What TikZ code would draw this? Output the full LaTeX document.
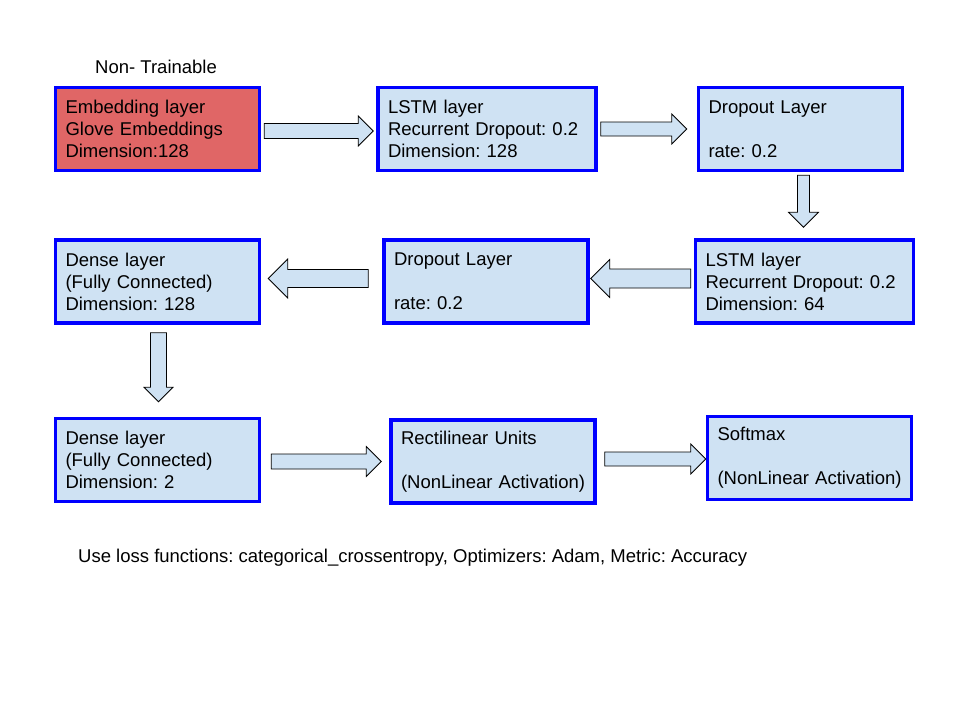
\documentclass[tikz,border=0pt]{standalone}
\usepackage{fontspec}
\setmainfont{Liberation Sans}
\usepackage{xcolor}
\usetikzlibrary{positioning, calc}

\definecolor{layerfill}{HTML}{CFE2F3}
\definecolor{embedfill}{HTML}{E06666}
\definecolor{layerblue}{HTML}{0000FF}

% block arrow between two points, horizontal or vertical
\newcommand{\harrow}[4]{%
  \draw[blockarrow] let \p1=(#1), \p2=(#2), \n1={(\x2>\x1)*2-1} in
    (\x1,\y1-#3) -- ({\x2-\n1*#4},\y1-#3) -- ({\x2-\n1*#4},\y1-#4) -- (\x2,\y1)
    -- ({\x2-\n1*#4},\y1+#4) -- ({\x2-\n1*#4},\y1+#3) -- (\x1,\y1+#3) -- cycle;}
\newcommand{\varrow}[4]{%
  \draw[blockarrow] let \p1=(#1), \p2=(#2), \n1={(\y2>\y1)*2-1} in
    (\x1-#3,\y1) -- (\x1-#3,{\y2-\n1*#4}) -- (\x1-#4,{\y2-\n1*#4}) -- (\x1,\y2)
    -- (\x1+#4,{\y2-\n1*#4}) -- (\x1+#3,{\y2-\n1*#4}) -- (\x1+#3,\y1) -- cycle;}

\begin{document}
\frenchspacing
\hyphenpenalty=10000
\begin{tikzpicture}[
  x=1pt, y=1pt,
  font=\fontsize{18.5}{22}\selectfont,
  layer/.style={draw=layerblue, line width=3.5pt, fill=layerfill, rectangle,
    text width=#1, align=left, inner xsep=10pt, minimum height=83pt},
  layer/.default=184pt,
  blockarrow/.style={draw=black, line width=0.8pt, fill=layerfill, line join=miter},
  caption/.style={anchor=base west, inner sep=0pt}
]
\useasboundingbox (0,0) rectangle (960,-720);

% First row
\node[layer, fill=embedfill] (embed) at (157.5,-129) {Embedding layer\\Glove Embeddings\\Dimension:128};
\node[layer=198pt, right=115pt of embed] (lstmA) {LSTM layer\\Recurrent Dropout: 0.2\\Dimension: 128};
\node[layer, right=99pt of lstmA] (dropA) {Dropout Layer\\[22pt]rate: 0.2};

% Second row (runs right to left)
\node[layer, below=66pt of embed] (denseA) {Dense layer\\(Fully Connected)\\Dimension: 128};
\node[layer, right=121pt of denseA] (dropB) {Dropout Layer\\[22pt]rate: 0.2};
\node[layer=198pt, right=104pt of dropB] (lstmB) {LSTM layer\\Recurrent Dropout: 0.2\\Dimension: 64};

% Third row
\node[layer, below=92pt of denseA] (denseB) {Dense layer\\(Fully Connected)\\Dimension: 2};
\node[layer, right=128pt of denseB, yshift=-1.5pt] (relu) {Rectilinear Units\\[22pt]\mbox{(NonLinear Activation)}};
\node[layer, right=109pt of relu, yshift=3.5pt] (softmax) {Softmax\\[22pt]\mbox{(NonLinear Activation)}};

% Captions
\node[caption] (frozen) at (95,-73) {Non- Trainable};
\node[caption] (compile) at (78,-562) {Use loss functions: categorical\_crossentropy, Optimizers: Adam, Metric: Accuracy};

% Flow arrows
\harrow{$(embed.east)+(3,-2)$}{$(lstmA.west)+(-3,0)$}{7.5pt}{15pt}
\harrow{$(lstmA.east)+(3,0)$}{$(dropA.west)+(-10,0)$}{7pt}{15pt}
\varrow{$(dropA.south)+(3,-3)$}{$(lstmB.north)+(0,11)$}{6pt}{15pt}
\harrow{$(lstmB.west)+(-3,3)$}{$(dropB.east)+(1,0)$}{9.5pt}{19pt}
\harrow{$(dropB.west)+(-14,3)$}{$(denseA.east)+(7,0)$}{9pt}{19.5pt}
\varrow{$(denseA.south)+(1,-8)$}{$(denseB.north)+(0,15)$}{8pt}{14.5pt}
\harrow{$(denseB.east)+(10,-1.5)$}{$(relu.west)+(-8,0)$}{7.5pt}{15pt}
\harrow{$(relu.east)+(8,2.5)$}{$(softmax.west)+(0,0)$}{7pt}{15pt}

\end{tikzpicture}
\end{document}
